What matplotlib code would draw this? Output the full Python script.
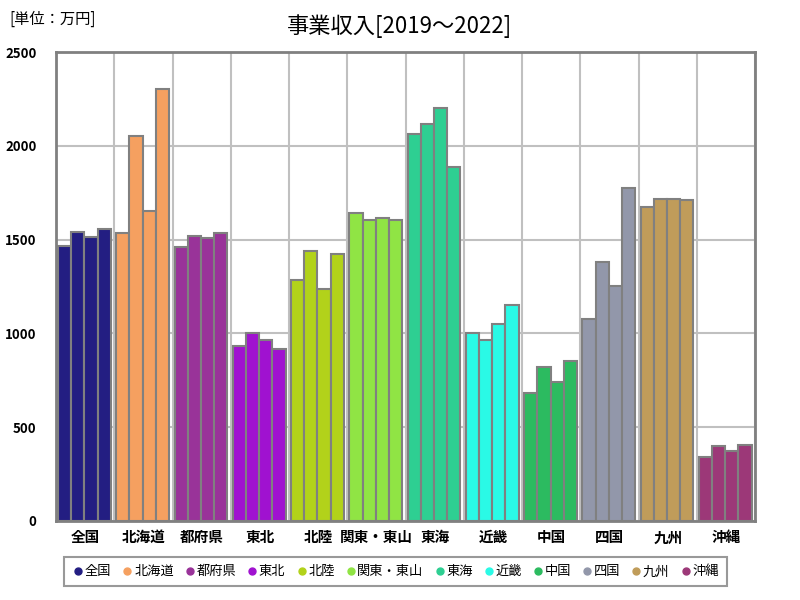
import matplotlib
matplotlib.use("Agg")
import matplotlib.pyplot as plt
from matplotlib.lines import Line2D
import numpy as np

plt.rcParams['font.family'] = ['Noto Sans CJK JP', 'DejaVu Sans']

regions = ["全国", "北海道", "都府県", "東北", "北陸", "関東・東山", "東海",
           "近畿", "中国", "四国", "九州", "沖縄"]
years = [2019, 2020, 2021, 2022]
v2019 = [1466, 1537, 1462, 934, 1286, 1644, 2063, 1004, 684, 1078, 1675, 343]
v2020 = [1540, 2052, 1519, 1004, 1441, 1605, 2116, 965, 823, 1382, 1716, 401]
v2021 = [1514, 1652, 1508, 966, 1238, 1615, 2201, 1052, 743, 1251, 1716, 375]
v2022 = [1558, 2304, 1537, 917, 1425, 1605, 1889, 1153, 855, 1777, 1713, 407]
colors = ["#231e82", "#f5a060", "#993399", "#a012d0", "#b2d21a", "#90e444",
          "#2ecf92", "#2afae6", "#2cbb60", "#9297aa", "#c09c5a", "#9c3878"]
yticks = [0, 500, 1000, 1500, 2000, 2500]

series = [v2019, v2020, v2021, v2022]

fig = plt.figure(figsize=(8, 6), dpi=100)
ax = fig.add_axes([0.07, 0.1317, 0.874, 0.7816])

bw = 0.226
start = 0.035
for j, vals in enumerate(series):
    x = np.arange(len(regions)) + start + j * bw
    ax.bar(x, vals, width=bw, align='edge', color=colors,
           edgecolor='#808080', linewidth=1.5, zorder=3)

ax.set_xlim(0, len(regions))
ax.set_ylim(0, 2500)
ax.set_yticks(yticks)
ax.set_yticklabels([str(t) for t in yticks], fontsize=9.5, fontweight='bold')
ax.set_xticks(np.arange(len(regions)) + 0.5)
ax.set_xticklabels(regions, fontsize=10.5, fontweight='bold')
ax.set_xticks(np.arange(len(regions) + 1), minor=True)
ax.tick_params(axis='both', which='both', length=0)
ax.tick_params(axis='x', pad=6)
ax.tick_params(axis='y', pad=14)
ax.grid(True, axis='y', which='major', color='#c0c0c0', linewidth=1.5, zorder=0)
ax.grid(True, axis='x', which='minor', color='#c0c0c0', linewidth=1.5, zorder=0)
ax.grid(False, axis='x', which='major')
for s in ax.spines.values():
    s.set_color('#808080')
    s.set_linewidth(2)

fig.text(0.5, 0.957, "事業収入[2019～2022]", ha='center', va='center', fontsize=16)
fig.text(0.012, 0.968, "[単位：万円]", ha='left', va='center', fontsize=11)

handles = [Line2D([0], [0], marker='o', linestyle='none', markersize=5,
                  markerfacecolor=c, markeredgecolor=c) for c in colors]
leg = fig.legend(handles, regions, loc='center', bbox_to_anchor=(0.494, 0.047),
                 ncol=12, fontsize=9.5, frameon=True, fancybox=False,
                 edgecolor='#808080', handletextpad=0.0, columnspacing=0.72,
                 borderpad=0.6, handlelength=1.0)
leg.get_frame().set_linewidth(1.5)

fig.savefig("out.png", dpi=100)
